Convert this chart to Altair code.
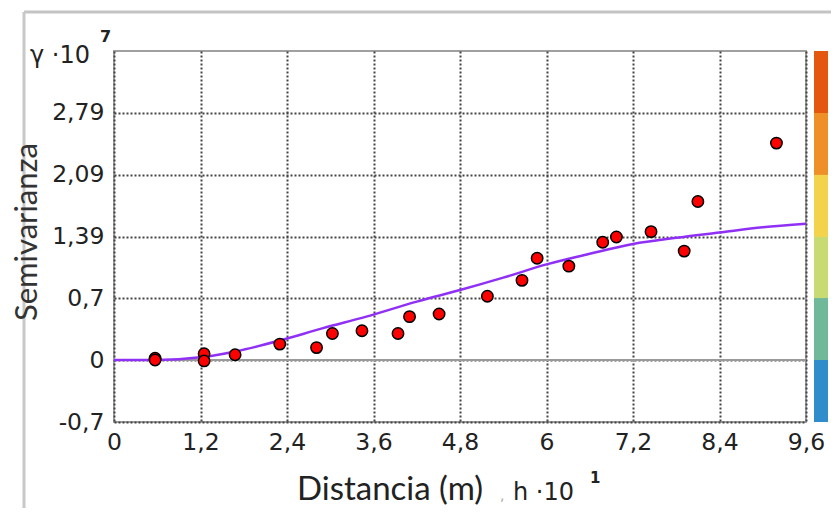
import altair as alt
import pandas as pd

# ---- data ----
lag = [0.57, 0.57, 1.25, 1.25, 1.68, 2.30, 2.81, 3.03, 3.44, 3.94, 4.10, 4.51,
       5.18, 5.66, 5.87, 6.31, 6.78, 6.97, 7.45, 7.91, 8.10, 9.19]
semiv = [0.02, 0.00, 0.07, -0.01, 0.06, 0.18, 0.14, 0.30, 0.33, 0.30, 0.49, 0.52,
         0.72, 0.90, 1.15, 1.06, 1.33, 1.39, 1.45, 1.23, 1.79, 2.45]

model_x = [0, 0.6, 1.2, 1.7, 2.3, 2.9, 3.5, 4.2, 4.8, 5.4, 6.0, 6.6, 7.2, 7.8, 8.4, 9.0, 9.6]
model_y = [0, 0.0, 0.03, 0.10, 0.22, 0.36, 0.49, 0.66, 0.79, 0.93, 1.08, 1.20, 1.31, 1.38, 1.44, 1.50, 1.54]

x_ticks = [0, 1.2, 2.4, 3.6, 4.8, 6, 7.2, 8.4, 9.6]
y_ticks = [-0.7, 0, 0.7, 1.39, 2.09, 2.79]

band_lo = [2.79, 2.09, 1.39, 0.7, 0, -0.7]
band_hi = [3.49, 2.79, 2.09, 1.39, 0.7, 0]
band_col = ["#E3570F", "#EE8F27", "#F2D34B", "#C8DB72", "#6FB99A", "#2E8DCA"]

pts = pd.DataFrame({"h": lag, "g": semiv})
model = pd.DataFrame({"h": model_x, "g": model_y})
bands = pd.DataFrame({"lo": band_lo, "hi": band_hi, "c": band_col})

xs = alt.Scale(domain=[0, 9.6], nice=False, zero=False)
ys = alt.Scale(domain=[-0.7, 3.49], nice=False, zero=False)
tick_font = "DejaVu Sans"

xaxis = alt.Axis(values=x_ticks, labelExpr="replace(toString(datum.value), '.', ',')",
                 grid=True, gridDash=[2, 2], gridColor="#444444", gridWidth=2,
                 ticks=False, domain=False, labelFont=tick_font, labelFontSize=23.5,
                 labelColor="#222222", labelPadding=8, labelFlush=False, title=None)
yaxis = alt.Axis(values=y_ticks, labelExpr="replace(toString(datum.value), '.', ',')",
                 grid=True, gridDash=[2, 2], gridColor="#444444", gridWidth=2,
                 ticks=False, domain=False, labelFont=tick_font, labelFontSize=23.5,
                 labelColor="#222222", labelPadding=10, title=None)


def X(f):
    return alt.X(f, type="quantitative", scale=xs, axis=xaxis)


def Y(f):
    return alt.Y(f, type="quantitative", scale=ys, axis=yaxis)


zero_rule = alt.Chart(pd.DataFrame({"g": [0]})).mark_rule(
    color="#9A9A9A", strokeWidth=2).encode(y=Y("g"))

line = alt.Chart(model).mark_line(color="#9030F5", strokeWidth=2.5,
                                  interpolate="monotone").encode(x=X("h"), y=Y("g"))

points = alt.Chart(pts).mark_point(filled=True, fill="#FF0000", stroke="#000000",
                                   strokeWidth=1.5, size=130, opacity=1,
                                   shape="circle").encode(x=X("h"), y=Y("g"))

bar = alt.Chart(bands).mark_rect().encode(
    y=Y("lo"), y2="hi", x=alt.value(700), x2=alt.value(714),
    color=alt.Color("c:N", scale=None))


def label(txt, x, y, size, font, align="left", color="#222222", angle=0, weight="normal"):
    return alt.Chart(pd.DataFrame({"t": [txt]})).mark_text(
        align=align, baseline="alphabetic", font=font, fontSize=size,
        color=color, angle=angle, fontWeight=weight).encode(
        text="t:N", x=alt.value(x), y=alt.value(y))


texts = [
    label("γ ·10", -84, 12, 24, tick_font),
    label("7", -14, -9, 16, tick_font, weight="bold"),
    label("Semivarianza", -77, 181, 31, "Lato", align="center", angle=270, color="#333333"),
    label("Distancia (m)", 276, 449, 33, "Lato", align="center", color="#222222"),
    label(",", 386, 449, 14, tick_font, color="#AAAAAA"),
    label("h ·10", 399, 449, 24, tick_font),
    label("1", 476, 432, 15, tick_font, weight="bold"),
]

frame_top = alt.Chart(pd.DataFrame({"a": [0]})).mark_rule(
    color="#C4C4C4", strokeWidth=3).encode(
    x=alt.value(-90), x2=alt.value(730), y=alt.value(-39))
frame_left = alt.Chart(pd.DataFrame({"a": [0]})).mark_rule(
    color="#C8C8C8", strokeWidth=3).encode(
    x=alt.value(-90), y=alt.value(-39), y2=alt.value(470))

chart = alt.layer(frame_top, frame_left, zero_rule, line, points, bar, *texts).properties(
    width=692, height=371,
    autosize=alt.AutoSizeParams(type="none"),
    padding={"left": 106, "top": 43, "right": 25, "bottom": 86},
    background="white",
).configure_view(stroke="#A0A0A0", strokeWidth=2)

chart.save("out.html", embed_options={"renderer": "svg", "actions": False})
